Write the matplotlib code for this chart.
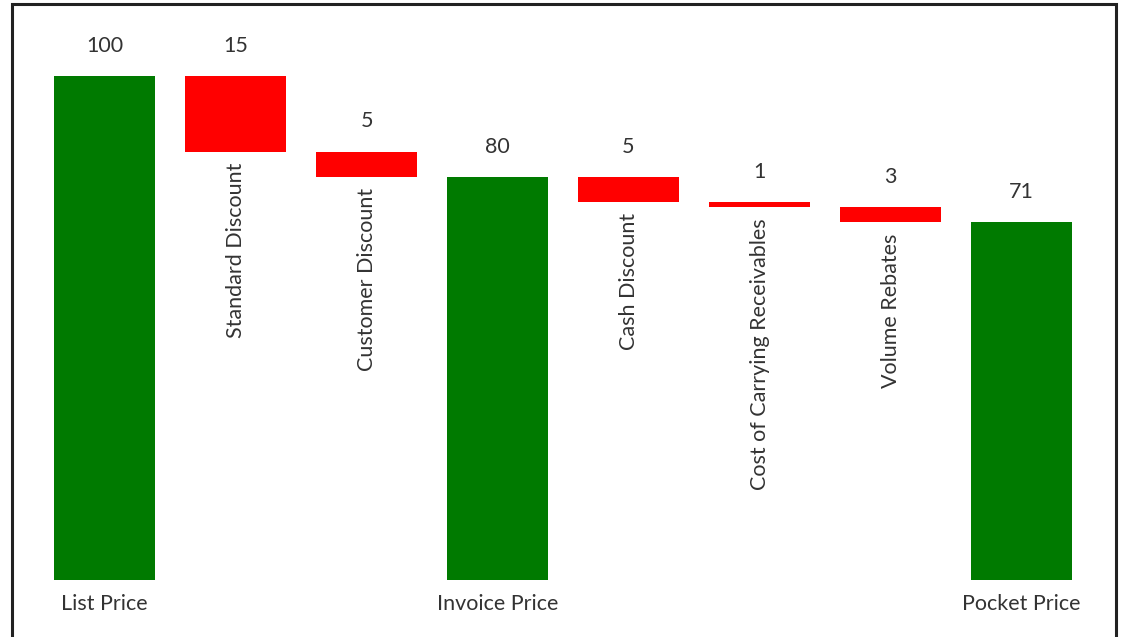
import matplotlib
matplotlib.use("Agg")
import matplotlib.pyplot as plt
from matplotlib.patches import Rectangle

categories = ["List Price", "Standard Discount", "Customer Discount", "Invoice Price",
              "Cash Discount", "Cost of Carrying Receivables", "Volume Rebates", "Pocket Price"]
values = [100, 15, 5, 80, 5, 1, 3, 71]
is_total = [True, False, False, True, False, False, False, True]

plt.rcParams['font.family'] = ['Lato', 'DejaVu Sans']

fig = plt.figure(figsize=(11.22, 6.37), dpi=100)
ax = fig.add_axes([0, 0, 1, 1])
ax.set_xlim(-0.798, 7.767)
ax.set_ylim(-11.31, 115.08)
ax.axis("off")

text_color = "#333333"
fs = 15.5
running = 0
for i, (name, val, total) in enumerate(zip(categories, values, is_total)):
    if total:
        bottom, top = 0, val
        running = val
        color = "#007a00"
    else:
        top = running
        bottom = running - val
        running = bottom
        color = "#ff0000"
    ax.bar(i, top - bottom, bottom=bottom, width=0.77, color=color, linewidth=0)
    ax.text(i, top + 6, str(val), ha="center", va="center", fontsize=fs, color=text_color)
    if total:
        ax.text(i, -4.8, name, ha="center", va="center", fontsize=fs, color=text_color)
    else:
        ax.text(i, bottom - 2.2, name, ha="center", va="top", rotation=90,
                fontsize=fs, color=text_color)

# frame around the picture
fig.add_artist(Rectangle((12 / 1122, -0.1), (1116 - 12) / 1122, 1.1 - 4 / 637,
                         transform=fig.transFigure, fill=False, lw=2.2, ec="#222222"))

fig.savefig("out.png", dpi=100)
